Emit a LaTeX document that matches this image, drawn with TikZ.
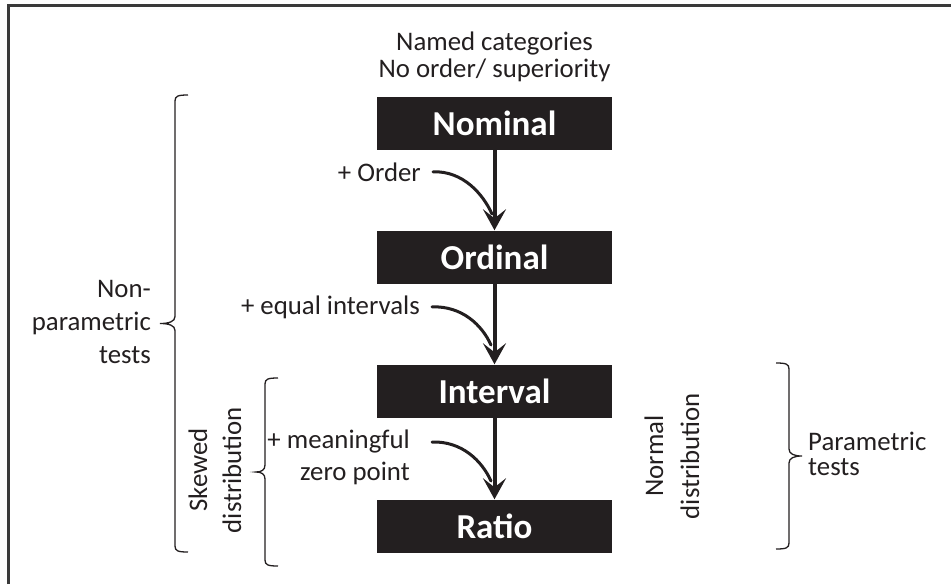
\documentclass[tikz,border=0pt]{standalone}
\usepackage{fontspec}
\setmainfont{Carlito}
\usepackage{tikz}
\usetikzlibrary{arrows.meta}
\definecolor{ink}{HTML}{231F20}
\definecolor{rim}{HTML}{3A3A3A}
\tikzset{
  level/.style    = {fill=ink, text=white, font=\fontsize{35}{42}\selectfont\bfseries, minimum width=235pt, minimum height=53pt, inner sep=0pt},
  lbl/.style      = {font=\fontsize{26.8}{27}\selectfont, text=ink, inner sep=0pt},
  flow/.style     = {draw=ink, line width=4pt, -{Stealth[length=21pt,width=23pt,inset=9pt]}},
  bendin/.style   = {draw=ink, line width=3pt, line cap=round},
  bracket/.style  = {draw=ink, line width=1.3pt},
  frame/.style    = {draw=rim, line width=3pt},
}
% #1 spine x, #2 top y, #3 bottom y, #4 serif side (+1 right, -1 left), #5 tip length
\newcommand{\sqbrace}[5]{%
  \draw[bracket] ({#1+#4*13},#2) .. controls ({#1+#4*3},#2) and (#1,{#2+1}) .. (#1,{#2+6})
    -- (#1,{(#2+#3)/2-7}) .. controls (#1,{(#2+#3)/2-2}) and ({#1-#4*#5*0.4},{(#2+#3)/2}) .. ({#1-#4*#5},{(#2+#3)/2})
    .. controls ({#1-#4*#5*0.4},{(#2+#3)/2}) and (#1,{(#2+#3)/2+2}) .. (#1,{(#2+#3)/2+7})
    -- (#1,{#3-6}) .. controls (#1,{#3-1}) and ({#1+#4*3},#3) .. ({#1+#4*13},#3);%
}
\begin{document}
\begin{tikzpicture}[x=1pt,y=-1pt]
  \useasboundingbox (0,0) rectangle (951,584);
  \draw[frame] (8,584) -- (8,5) -- (951,5);

  % levels of measurement
  \node[lbl, align=center] (desc) at (494.5,57) {Named categories\\No order/ superiority};
  \node[level] (nom) at (494.5,123) {Nominal};
  \node[level] (ord) at (494.5,257) {Ordinal};
  \node[level] (int) at (494.5,391) {Interval};
  \node[level] (rat) at (494.5,526) {Ratio};
  \draw[flow] (nom) -- (ord);
  \draw[flow] (ord) -- (int);
  \draw[flow] (int) -- (rat);

  % added properties
  \node[lbl, anchor=base east] (addord) at (421,181) {+ Order};
  \node[lbl, anchor=base east] (addeq) at (420,314) {+ equal intervals};
  \node[lbl, align=right, anchor=east, font=\fontsize{26.8}{32}\selectfont] (addzero) at (410,457) {+ meaningful\\zero point};
  \coordinate (j1) at (492,214);
  \coordinate (j2) at (491,345);
  \coordinate (j3) at (491,481);
  \draw[bendin] ([xshift=12pt]addord.east) .. controls +(30,-1) and +(-9,-20) .. (j1);
  \draw[bendin] ([xshift=12pt]addeq.east) .. controls +(30,-1) and +(-9,-20) .. (j2);
  \draw[bendin] ([xshift=22pt,yshift=15pt]addzero.east) .. controls +(30,-1) and +(-9,-20) .. (j3);

  % test families
  \sqbrace{175}{95}{552}{1}{15}
  \node[lbl, align=right, anchor=east, font=\fontsize{26.8}{33}\selectfont] (nonpar) at (151,322) {Non-\\parametric\\tests};
  \sqbrace{265}{378}{566}{1}{9}
  \node[lbl, align=center, rotate=90, font=\fontsize{26.8}{34}\selectfont] (skew) at (215,470) {Skewed\\distribution};
  \node[lbl, align=center, rotate=90, font=\fontsize{26.8}{36}\selectfont] (norm) at (672,456) {Normal\\distribution};
  \sqbrace{789}{363}{549}{-1}{13}
  \node[lbl, align=left, anchor=west, font=\fontsize{26.8}{25}\selectfont] (par) at (808,454) {Parametric\\tests};
\end{tikzpicture}
\end{document}
